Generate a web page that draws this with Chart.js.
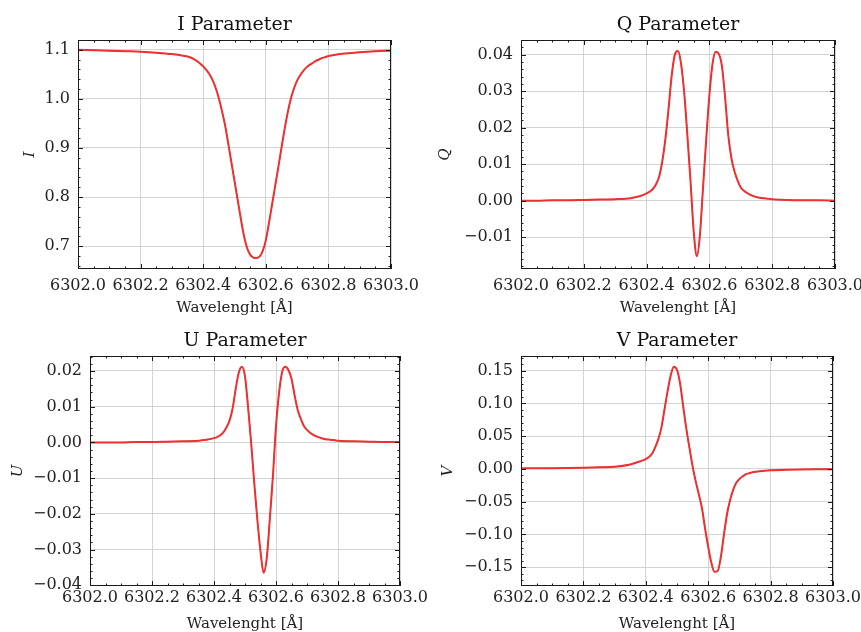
<!DOCTYPE html>
<html>
<head>
<meta charset="utf-8">
<script src="https://cdn.jsdelivr.net/npm/chart.js@4/dist/chart.umd.min.js"></script>
<style>
  html, body { margin: 0; padding: 0; background: #fff; }
  #wrap { position: relative; width: 861px; height: 632px; overflow: hidden; }
  canvas { position: absolute; }
</style>
</head>
<body>
<div id="wrap">
  <canvas id="cI" width="430" height="320" style="left:0;top:0"></canvas>
  <canvas id="cQ" width="440" height="320" style="left:430px;top:0"></canvas>
  <canvas id="cU" width="430" height="320" style="left:0;top:316px"></canvas>
  <canvas id="cV" width="440" height="320" style="left:430px;top:316px"></canvas>
</div>
<script>
// wavelength samples (coarse in the wings, fine in the line core)
const WAVELENGTHS = [
  6302.00, 6302.05, 6302.10, 6302.15, 6302.20, 6302.25, 6302.30,
  6302.35, 6302.36, 6302.37, 6302.38, 6302.39,
  6302.40, 6302.41, 6302.42, 6302.43, 6302.44, 6302.45, 6302.46, 6302.47, 6302.48, 6302.49,
  6302.50, 6302.51, 6302.52, 6302.53, 6302.54, 6302.55, 6302.56, 6302.57, 6302.58, 6302.59,
  6302.60, 6302.61, 6302.62, 6302.63, 6302.64, 6302.65, 6302.66, 6302.67, 6302.68, 6302.69,
  6302.70, 6302.71, 6302.72, 6302.73, 6302.74, 6302.75, 6302.76, 6302.77, 6302.78, 6302.79,
  6302.80, 6302.85, 6302.90, 6302.95, 6303.00,
]

const STOKES_I = [
  1.100, 1.099, 1.098, 1.097, 1.096, 1.094, 1.091,
  1.086, 1.084, 1.081, 1.077, 1.072,
  1.066, 1.059, 1.050, 1.038, 1.022, 1.001, 0.975, 0.946, 0.909, 0.871,
  0.833, 0.795, 0.757, 0.722, 0.697, 0.683, 0.677, 0.676, 0.679, 0.690,
  0.712, 0.747, 0.785, 0.823, 0.861, 0.900, 0.938, 0.972, 1.000, 1.021,
  1.037, 1.048, 1.057, 1.064, 1.069, 1.073, 1.077, 1.080, 1.083, 1.085,
  1.087, 1.092, 1.095, 1.097, 1.098,
]

const STOKES_Q = [
  0.0000, 0.0000, 0.0001, 0.0001, 0.0002, 0.0003, 0.0004,
  0.0007, 0.0009, 0.0011, 0.0013, 0.0016,
  0.0020, 0.0025, 0.0032, 0.0045, 0.0066, 0.0108, 0.0170, 0.0253, 0.0343, 0.0400,
  0.0410, 0.0373, 0.0293, 0.0177, 0.0052, -0.0084, -0.0152, -0.0092, 0.0040, 0.0170,
  0.0290, 0.0375, 0.0408, 0.0402, 0.0368, 0.0283, 0.0180, 0.0117, 0.0080, 0.0055,
  0.0036, 0.0027, 0.0021, 0.0016, 0.0013, 0.0010, 0.0008, 0.0007, 0.0006, 0.0005,
  0.0004, 0.0002, 0.0001, 0.0001, 0.0000,
]

const STOKES_U = [
  0.0000, 0.0000, 0.0000, 0.0001, 0.0001, 0.0002, 0.0003,
  0.0005, 0.0006, 0.0007, 0.0008, 0.0010,
  0.0012, 0.0015, 0.0020, 0.0028, 0.0042, 0.0061, 0.0095, 0.0150, 0.0196, 0.0212,
  0.0185, 0.0098, -0.0003, -0.0115, -0.0218, -0.0305, -0.0365, -0.0325, -0.0215, -0.0095,
  0.0045, 0.0140, 0.0198, 0.0212, 0.0203, 0.0178, 0.0132, 0.0091, 0.0066, 0.0046,
  0.0035, 0.0027, 0.0021, 0.0017, 0.0014, 0.0011, 0.0009, 0.0008, 0.0007, 0.0006,
  0.0005, 0.0003, 0.0002, 0.0001, 0.0001,
]

const STOKES_V = [
  0.0008, 0.0009, 0.0011, 0.0014, 0.0018, 0.0024, 0.0032,
  0.0068, 0.0082, 0.0098, 0.0112, 0.0130,
  0.0150, 0.0180, 0.0230, 0.0330, 0.0450, 0.0630, 0.0910, 0.1190, 0.1430, 0.1560,
  0.1510, 0.1300, 0.0950, 0.0610, 0.0320, 0.0040, -0.0190, -0.0390, -0.0600, -0.0910,
  -0.1190, -0.1430, -0.1570, -0.1560, -0.1360, -0.1020, -0.0700, -0.0480, -0.0320, -0.0210,
  -0.0155, -0.0115, -0.0082, -0.0068, -0.0055, -0.0045, -0.0038, -0.0032, -0.0027, -0.0023,
  -0.0020, -0.0012, -0.0008, -0.0006, -0.0005,
]

const X_TICKS = [6302.0, 6302.2, 6302.4, 6302.6, 6302.8, 6303.0]
const I_TICKS = [0.7, 0.8, 0.9, 1.0, 1.1]
const Q_TICKS = [-0.01, 0.00, 0.01, 0.02, 0.03, 0.04]
const U_TICKS = [-0.04, -0.03, -0.02, -0.01, 0.00, 0.01, 0.02]
const V_TICKS = [-0.15, -0.10, -0.05, 0.00, 0.05, 0.10, 0.15]

const SERIF = '"DejaVu Serif", "Liberation Serif", serif'
const TEXT = '#222'
const GRID = '#c9c9c9'
const RED = '#f03030'

Chart.defaults.font.family = SERIF
Chart.defaults.color = TEXT

const fmt = (v, d) => (v < 0 ? '\u2212' : '') + Math.abs(v).toFixed(d)

// minor ticks: split every major interval, and carry on past the ends
function minorTicks(ticks, parts, lo, hi) {
  const step = (ticks[1] - ticks[0]) / parts
  const out = []
  for (let v = ticks[0] - step * Math.ceil((ticks[0] - lo) / step); v <= hi + 1e-9; v += step) {
    if (v >= lo - 1e-9) out.push(v)
  }
  return out
}

// matplotlib "science" look: closed frame, ticks pointing inwards on all sides
const frameTicks = {
  id: 'frameTicks',
  afterDraw(chart, args, opts) {
    const { ctx, chartArea: a, scales: { x, y } } = chart
    ctx.save()
    ctx.strokeStyle = '#1a1a1a'
    ctx.lineWidth = 1
    const mark = (vals, scale, len) => {
      vals.forEach(v => {
        const p = Math.round(scale.getPixelForValue(v)) + 0.5
        ctx.beginPath()
        if (scale === x) {
          ctx.moveTo(p, a.bottom); ctx.lineTo(p, a.bottom - len)
          ctx.moveTo(p, a.top); ctx.lineTo(p, a.top + len)
        } else {
          ctx.moveTo(a.left, p); ctx.lineTo(a.left + len, p)
          ctx.moveTo(a.right, p); ctx.lineTo(a.right - len, p)
        }
        ctx.stroke()
      })
    }
    mark(minorTicks(X_TICKS, 4, x.min, x.max), x, 2.5)
    mark(X_TICKS, x, 5)
    mark(minorTicks(opts.yTicks, 5, y.min, y.max), y, 2.5)
    mark(opts.yTicks, y, 5)
    ctx.strokeRect(Math.round(a.left) + 0.5, Math.round(a.top) + 0.5,
      Math.round(a.width) - 1, Math.round(a.height) - 1)
    ctx.restore()
  },
}

function stokesPanel(id, p) {
  const pts = p.values.map((v, i) => ({ x: WAVELENGTHS[i], y: v }))
  return new Chart(document.getElementById(id), {
    type: 'line',
    data: {
      datasets: [
        { data: pts, borderColor: RED, borderWidth: 2, pointRadius: 0, cubicInterpolationMode: 'monotone' },
        { data: pts, borderColor: 'rgba(60,0,0,0.8)', borderWidth: 0.8, pointRadius: 0, cubicInterpolationMode: 'monotone' },
      ],
    },
    options: {
      responsive: false,
      animation: false,
      devicePixelRatio: 1,
      events: [],
      layout: { padding: { left: 0, right: p.padRight, top: 0, bottom: 0 } },
      plugins: {
        legend: { display: false },
        tooltip: { enabled: false },
        title: {
          display: true, text: p.title, color: '#111', fullSize: false,
          font: { family: SERIF, size: 19, weight: 'normal' },
          padding: { top: 14, bottom: 3.2 },
        },
        frameTicks: { yTicks: p.ticks },
      },
      scales: {
        x: {
          type: 'linear', min: 6302, max: 6303,
          afterBuildTicks: s => { s.ticks = X_TICKS.map(v => ({ value: v })) },
          afterFit: s => { s.height = p.xHeight },
          ticks: { callback: v => v.toFixed(1), maxRotation: 0, autoSkip: false, padding: p.xTickPad, font: { size: 16 }, color: TEXT },
          grid: { color: GRID, lineWidth: 0.8, drawTicks: false },
          border: { display: false },
          title: { display: true, text: 'Wavelenght [Å]', font: { size: 15 }, color: TEXT, padding: { top: 0, bottom: 3 } },
        },
        y: {
          type: 'linear', min: p.min, max: p.max,
          afterBuildTicks: s => { s.ticks = p.ticks.map(v => ({ value: v })) },
          afterFit: s => { s.width = p.yWidth },
          ticks: { callback: v => fmt(v, p.dec), padding: 8, font: { size: 16 }, color: TEXT },
          grid: { color: GRID, lineWidth: 0.8, drawTicks: false },
          border: { display: false },
          title: { display: true, text: p.yLabel, font: { size: 15, style: 'italic' }, color: TEXT, padding: { top: p.yTitlePad, bottom: 0 } },
        },
      },
    },
    plugins: [frameTicks],
  })
}

stokesPanel('cI', { title: 'I Parameter', yLabel: 'I', values: STOKES_I, ticks: I_TICKS, dec: 1,
  min: 0.6538, max: 1.1197, yWidth: 78, xHeight: 51, padRight: 39, yTitlePad: 21, xTickPad: 7 })
stokesPanel('cQ', { title: 'Q Parameter', yLabel: 'Q', values: STOKES_Q, ticks: Q_TICKS, dec: 2,
  min: -0.0187, max: 0.0440, yWidth: 91, xHeight: 51, padRight: 34, yTitlePad: 6, xTickPad: 7 })
stokesPanel('cU', { title: 'U Parameter', yLabel: 'U', values: STOKES_U, ticks: U_TICKS, dec: 2,
  min: -0.0402, max: 0.0242, yWidth: 90, xHeight: 50, padRight: 28, yTitlePad: 9, xTickPad: 2 })
stokesPanel('cV', { title: 'V Parameter', yLabel: 'V', values: STOKES_V, ticks: V_TICKS, dec: 2,
  min: -0.1787, max: 0.1723, yWidth: 91, xHeight: 50, padRight: 37, yTitlePad: 9, xTickPad: 2 })
</script>
</body>
</html>
